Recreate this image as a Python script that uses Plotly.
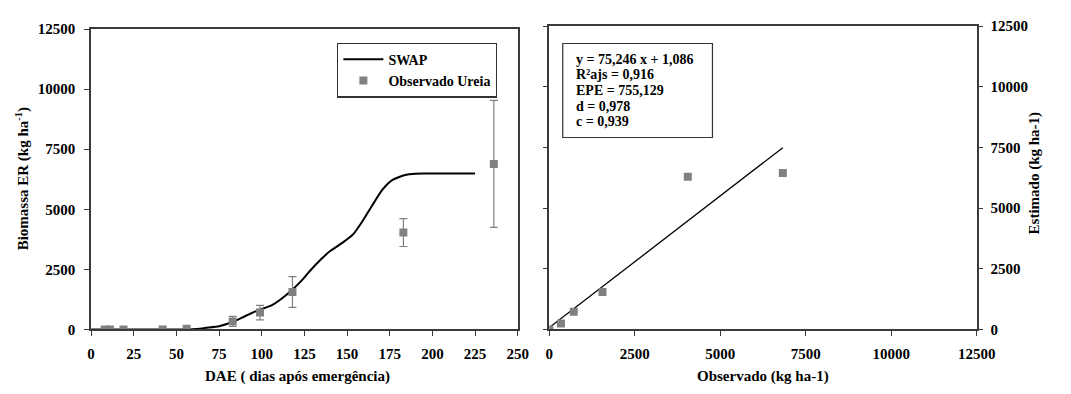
import plotly.graph_objects as go

# SWAP simulated biomass (kg/ha) by days after emergence
swap_dae = [0, 56, 62, 67.5, 75, 82.8, 90.4, 98, 105.7, 111.4, 117.1, 122.9, 128.6,
            134.3, 140.1, 147.8, 153.5, 159.2, 165, 170.7, 176.4, 184, 189.8, 200, 225]
swap_biomassa = [0, 0, 20, 67, 133, 306, 559, 799, 998, 1265, 1597, 1997, 2464,
                 2889, 3262, 3634, 3954, 4525, 5192, 5817, 6217, 6430, 6482, 6485, 6485]

# Observed biomass (urea treatment) with standard deviation
obs_dae = [8, 11, 19, 42, 56, 83, 99, 118, 183, 236]
obs_biomassa = [0, 0, 0, 0, 25, 330, 700, 1557, 4030, 6890]
obs_desvio = [0, 0, 0, 0, 0, 210, 300, 640, 580, 2640]

# Observed vs estimated
observado = [0, 340, 715, 1555, 4050, 6830]
estimado = [0, 240, 725, 1545, 6290, 6450]

# Fitted line (intercept, slope) and statistics
intercepto = 75.246
inclinacao = 1.086
linha_x = [0, 6830]
estatisticas = ["y = 75,246 x + 1,086", "R²ajs = 0,916", "EPE = 755,129", "d = 0,978", "c = 0,939"]

x_ticks_dae = [0, 25, 50, 75, 100, 125, 150, 175, 200, 225, 250]
ticks_biomassa = [0, 2500, 5000, 7500, 10000, 12500]
ticks_biomassa_txt = ["0", "2500", "5000", "7500", "10000", "12500"]

W, H = 1071, 394
FONT = "'Liberation Serif', 'Times New Roman', Times, serif"
GRAY = "#808080"
AXIS = "#3a3a3a"


def px_x(p):
    return p / W


def px_y(p):
    return (H - p) / H


fig = go.Figure()

fig.add_trace(go.Scatter(
    x=swap_dae, y=swap_biomassa, mode="lines", name="SWAP",
    line=dict(color="black", width=2, shape="spline", smoothing=0.5),
    xaxis="x", yaxis="y",
))
fig.add_trace(go.Scatter(
    x=obs_dae, y=obs_biomassa, mode="markers", name="Observado Ureia",
    marker=dict(symbol="square", size=8, color=GRAY),
    error_y=dict(type="data", array=obs_desvio, color=GRAY, thickness=1.2, width=4),
    xaxis="x", yaxis="y",
))

linha_y = [intercepto + inclinacao * v for v in linha_x]
fig.add_trace(go.Scatter(
    x=linha_x, y=linha_y, mode="lines", showlegend=False,
    line=dict(color="black", width=1.3),
    xaxis="x2", yaxis="y2",
))
fig.add_trace(go.Scatter(
    x=observado, y=estimado, mode="markers", showlegend=False,
    marker=dict(symbol="square", size=8, color=GRAY),
    xaxis="x2", yaxis="y2",
))

tickfont = dict(family=FONT, size=15, color="black", weight="bold")
common = dict(
    showgrid=False, zeroline=False, showline=True, linecolor=AXIS, linewidth=1.5,
    ticks="outside", ticklen=5, tickcolor=AXIS, tickwidth=1.2, tickfont=tickfont,
)

fig.update_layout(
    width=W, height=H,
    margin=dict(l=0, r=0, t=0, b=0),
    paper_bgcolor="white", plot_bgcolor="white",
    showlegend=True,
    legend=dict(
        x=px_x(504), y=px_y(36), xanchor="right", yanchor="top",
        bordercolor="#333", borderwidth=1.2, bgcolor="white",
        font=dict(family=FONT, size=14, color="black", weight="bold"),
        tracegroupgap=0, itemwidth=40,
    ),
    xaxis=dict(domain=[px_x(89), px_x(525)], range=[0, 250], tickvals=x_ticks_dae,
               ticktext=[str(v) for v in x_ticks_dae], ticklabelstandoff=5,
               mirror=True, anchor="y", **common),
    yaxis=dict(domain=[px_y(335), px_y(22)], range=[0, 12500], tickvals=ticks_biomassa,
               ticktext=ticks_biomassa_txt, ticklabelstandoff=6,
               mirror=True, anchor="x", **common),
    xaxis2=dict(domain=[px_x(557.3), px_x(994)], range=[0, 12500], tickvals=ticks_biomassa,
                ticktext=ticks_biomassa_txt, ticklabelstandoff=5,
                mirror=True, anchor="y2", **common),
    yaxis2=dict(domain=[px_y(335), px_y(19)], range=[0, 12500], tickvals=ticks_biomassa,
                ticktext=ticks_biomassa_txt, ticklabelstandoff=4,
                side="right", mirror="ticks", anchor="x2", **common),
)

titlefont = dict(family=FONT, size=15, color="black", weight="bold")
ann = [
    dict(text="DAE ( dias após emergência)", x=px_x(300), y=px_y(384), textangle=0),
    dict(text="Observado (kg ha-1)", x=px_x(776), y=px_y(384), textangle=0),
    dict(text="Biomassa ER (kg ha<sup>-1</sup>)", x=px_x(19), y=px_y(178), textangle=-90),
    dict(text="Estimado (kg ha-1)", x=px_x(1053), y=px_y(172), textangle=-90),
]
for a in ann:
    fig.add_annotation(xref="paper", yref="paper", showarrow=False,
                       xanchor="center", yanchor="middle", font=titlefont, **a)

# statistics box on the observed vs estimated panel
for i, linha in enumerate(estatisticas):
    fig.add_annotation(
        xref="paper", yref="paper", x=px_x(583), y=px_y(53.5 + 16.3 * i),
        xanchor="left", yanchor="middle", showarrow=False, text=linha,
        font=dict(family=FONT, size=14, color="black", weight="bold"),
    )
fig.add_shape(type="rect", xref="paper", yref="paper",
              x0=px_x(571), x1=px_x(724), y0=px_y(135), y1=px_y(37),
              line=dict(color="#333", width=1.2), fillcolor="rgba(0,0,0,0)")

fig.write_html("out.html")
